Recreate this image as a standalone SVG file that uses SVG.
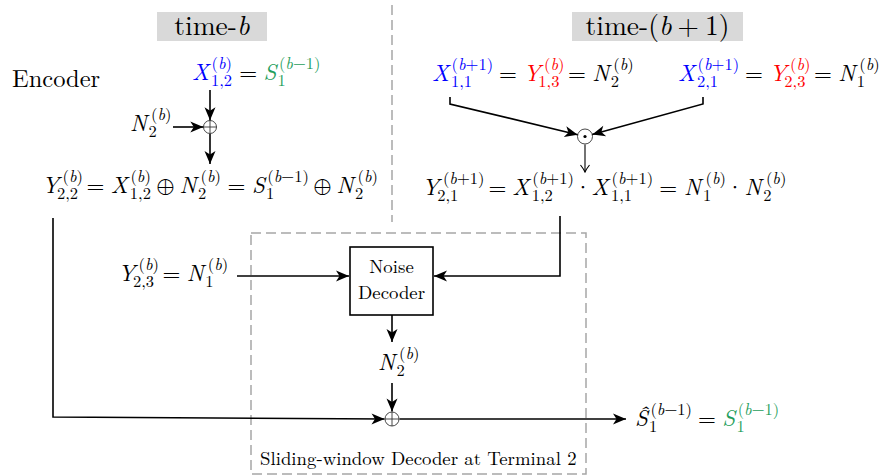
<svg xmlns="http://www.w3.org/2000/svg" width="883" height="476" viewBox="0 0 883 476">
<defs>
<style>
.m{font-size:23px;fill:#000}
.sc{font-size:16.5px}
.it{font-style:italic}
.op{font-size:23px}
.blue{fill:#0000ff}
.red{fill:#ff0000}
.green{fill:#1f9e5c}
.dash{fill:none;stroke:#a6a6a6;stroke-width:1.5;stroke-dasharray:10 5}
.opc{fill:#fff;stroke:#333;stroke-width:0.9}
</style>
<marker id="ah" markerUnits="userSpaceOnUse" viewBox="-14 -7 15 14" markerWidth="15" markerHeight="14" refX="0" refY="0" orient="auto">
<path d="M0,0 L-13,-5.5 L-9.5,0 L-13,5.5 Z" fill="#000"/>
</marker>
<marker id="ath" markerUnits="userSpaceOnUse" viewBox="-10 -6 11 12" markerWidth="11" markerHeight="12" refX="0" refY="0" orient="auto">
<path d="M-7,-4.5 Q-2.5,-1 0,0 Q-2.5,1 -7,4.5" fill="none" stroke="#000" stroke-width="1.1"/>
</marker>
</defs>
<rect width="883" height="476" fill="#fff"/>

<g id="title-b">
<rect x="157" y="12" width="110" height="29" fill="#d9d9d9"/>
<text x="212" y="35" text-anchor="middle" font-family="Latin Modern Roman, Liberation Serif, serif" font-size="27.5">time-<tspan class="it">b</tspan></text>
</g>
<g id="title-b1">
<rect x="572" y="12" width="171" height="29" fill="#d9d9d9"/>
<text x="657.5" y="35" text-anchor="middle" font-family="Latin Modern Roman, Liberation Serif, serif" font-size="27.5">time-(<tspan class="it">b</tspan><tspan dx="6">+</tspan><tspan dx="6">1)</tspan></text>
</g>

<g id="divider">
<line x1="392" y1="5" x2="392" y2="222" class="dash"/>
</g>

<g id="encoder">
<text x="12" y="87" font-size="24.5" font-family="Latin Modern Roman, Liberation Serif, serif">Encoder</text>
</g>

<g id="x12-eq">
<text class="m" font-family="Latin Modern Roman, Liberation Serif, serif">
<tspan x="192" y="80" class="it blue">X</tspan>
<tspan x="211.6" y="68.5" class="sc blue">(<tspan class="it">b</tspan>)</tspan>
<tspan x="211" y="86" class="sc blue">1,2</tspan>
<tspan x="239.2" y="80">=</tspan>
<tspan x="263.5" y="80" class="it green">S</tspan>
<tspan x="277.6" y="86" class="sc green">1</tspan>
<tspan x="278.9" y="68.5" class="sc green">(<tspan class="it">b</tspan>−1)</tspan>
</text>
</g>

<g id="n2-enc">
<text class="m" font-family="Latin Modern Roman, Liberation Serif, serif">
<tspan x="130" y="131" class="it">N</tspan>
<tspan x="148.5" y="137" class="sc">2</tspan>
<tspan x="151" y="119.5" class="sc">(<tspan class="it">b</tspan>)</tspan>
</text>
</g>

<g id="oplus-enc">
<circle cx="210" cy="127" r="6.5" class="opc"/>
<path d="M203.5,127 H216.5 M210,120.5 V133.5" stroke="#333" stroke-width="0.9"/>
</g>

<g id="y22-eq">
<text class="m" font-family="Latin Modern Roman, Liberation Serif, serif">
<tspan x="42" y="193" class="it">Y</tspan>
<tspan x="56.9" y="199" class="sc">2,2</tspan>
<tspan x="62.6" y="181.5" class="sc">(<tspan class="it">b</tspan>)</tspan>
<tspan x="86.5" y="193">=</tspan>
<tspan x="110.8" y="193" class="it">X</tspan>
<tspan x="129.8" y="199" class="sc">1,2</tspan>
<tspan x="130.4" y="181.5" class="sc">(<tspan class="it">b</tspan>)</tspan>
<tspan x="156.6" y="193" class="op" font-family="Latin Modern Math, DejaVu Sans, sans-serif">⊕</tspan>
<tspan x="179.6" y="193" class="it">N</tspan>
<tspan x="198.1" y="199" class="sc">2</tspan>
<tspan x="200.6" y="181.5" class="sc">(<tspan class="it">b</tspan>)</tspan>
<tspan x="227.6" y="193">=</tspan>
<tspan x="251.9" y="193" class="it">S</tspan>
<tspan x="266" y="199" class="sc">1</tspan>
<tspan x="267.3" y="181.5" class="sc">(<tspan class="it">b</tspan>−1)</tspan>
<tspan x="313.6" y="193" class="op" font-family="Latin Modern Math, DejaVu Sans, sans-serif">⊕</tspan>
<tspan x="336.6" y="193" class="it">N</tspan>
<tspan x="355.1" y="199" class="sc">2</tspan>
<tspan x="357.6" y="181.5" class="sc">(<tspan class="it">b</tspan>)</tspan>
</text>
</g>

<g id="x11-eq">
<text class="m" font-family="Latin Modern Roman, Liberation Serif, serif">
<tspan x="432" y="81" class="it blue">X</tspan>
<tspan x="451" y="87" class="sc blue">1,1</tspan>
<tspan x="451.6" y="69.5" class="sc blue">(<tspan class="it">b</tspan>+1)</tspan>
<tspan x="499.1" y="81">=</tspan>
<tspan x="523.4" y="81" class="it red">Y</tspan>
<tspan x="538.3" y="87" class="sc red">1,3</tspan>
<tspan x="544" y="69.5" class="sc red">(<tspan class="it">b</tspan>)</tspan>
<tspan x="568" y="81">=</tspan>
<tspan x="592.3" y="81" class="it">N</tspan>
<tspan x="610.8" y="87" class="sc">2</tspan>
<tspan x="613.3" y="69.5" class="sc">(<tspan class="it">b</tspan>)</tspan>
</text>
</g>

<g id="x21-eq">
<text class="m" font-family="Latin Modern Roman, Liberation Serif, serif">
<tspan x="678" y="81" class="it blue">X</tspan>
<tspan x="697" y="87" class="sc blue">2,1</tspan>
<tspan x="697.6" y="69.5" class="sc blue">(<tspan class="it">b</tspan>+1)</tspan>
<tspan x="745.1" y="81">=</tspan>
<tspan x="769.4" y="81" class="it red">Y</tspan>
<tspan x="784.3" y="87" class="sc red">2,3</tspan>
<tspan x="790" y="69.5" class="sc red">(<tspan class="it">b</tspan>)</tspan>
<tspan x="814" y="81">=</tspan>
<tspan x="838.3" y="81" class="it">N</tspan>
<tspan x="856.8" y="87" class="sc">1</tspan>
<tspan x="859.3" y="69.5" class="sc">(<tspan class="it">b</tspan>)</tspan>
</text>
</g>

<g id="odot">
<circle cx="585" cy="136.5" r="7.5" class="opc"/>
<circle cx="585" cy="136.5" r="1.6" fill="#000"/>
</g>

<g id="y21-eq">
<text class="m" font-family="Latin Modern Roman, Liberation Serif, serif">
<tspan x="422" y="195" class="it">Y</tspan>
<tspan x="437.2" y="201" class="sc">2,1</tspan>
<tspan x="442.9" y="183.5" class="sc">(<tspan class="it">b</tspan>+1)</tspan>
<tspan x="488.6" y="195">=</tspan>
<tspan x="512.3" y="195" class="it">X</tspan>
<tspan x="531.7" y="201" class="sc">1,2</tspan>
<tspan x="532.3" y="183.5" class="sc">(<tspan class="it">b</tspan>+1)</tspan>
<tspan x="591.6" y="195" class="it">X</tspan>
<tspan x="611" y="201" class="sc">1,1</tspan>
<tspan x="611.6" y="183.5" class="sc">(<tspan class="it">b</tspan>+1)</tspan>
<tspan x="659.3" y="195">=</tspan>
<tspan x="684" y="195" class="it">N</tspan>
<tspan x="702.9" y="201" class="sc">1</tspan>
<tspan x="705.5" y="183.5" class="sc">(<tspan class="it">b</tspan>)</tspan>
<tspan x="744.4" y="195" class="it">N</tspan>
<tspan x="763.3" y="201" class="sc">2</tspan>
<tspan x="765.9" y="183.5" class="sc">(<tspan class="it">b</tspan>)</tspan>
</text>
<text class="m" x="583" y="195" text-anchor="middle" font-family="Latin Modern Roman, Liberation Serif, serif">·</text>
<text class="m" x="735" y="195" text-anchor="middle" font-family="Latin Modern Roman, Liberation Serif, serif">·</text>
</g>

<g id="window">
<rect x="251" y="233" width="335" height="241" class="dash"/>
<text x="260" y="465" font-size="18.8" font-family="Latin Modern Roman, Liberation Serif, serif">Sliding-window Decoder at Terminal 2</text>
</g>

<g id="y23-eq">
<text class="m" font-family="Latin Modern Roman, Liberation Serif, serif">
<tspan x="118" y="281" class="it">Y</tspan>
<tspan x="132.9" y="287" class="sc">2,3</tspan>
<tspan x="138.6" y="269.5" class="sc">(<tspan class="it">b</tspan>)</tspan>
<tspan x="162.5" y="281">=</tspan>
<tspan x="186.8" y="281" class="it">N</tspan>
<tspan x="205.3" y="287" class="sc">1</tspan>
<tspan x="207.8" y="269.5" class="sc">(<tspan class="it">b</tspan>)</tspan>
</text>
</g>

<g id="noise-decoder">
<rect x="350" y="247" width="83" height="68" fill="#fff" stroke="#000" stroke-width="1.6"/>
<text x="391.5" y="273" text-anchor="middle" font-size="18.8" font-family="Latin Modern Roman, Liberation Serif, serif">Noise</text>
<text x="391.5" y="299" text-anchor="middle" font-size="18.8" font-family="Latin Modern Roman, Liberation Serif, serif">Decoder</text>
</g>

<g id="n2-dec">
<text class="m" font-family="Latin Modern Roman, Liberation Serif, serif">
<tspan x="378" y="370" class="it">N</tspan>
<tspan x="396.5" y="376" class="sc">2</tspan>
<tspan x="399" y="358.5" class="sc">(<tspan class="it">b</tspan>)</tspan>
</text>
</g>

<g id="oplus-dec">
<circle cx="392" cy="419" r="7" class="opc"/>
<path d="M385,419 H399 M392,412 V426" stroke="#333" stroke-width="0.9"/>
</g>

<g id="s-hat-eq">
<text class="m" font-family="Latin Modern Roman, Liberation Serif, serif">
<tspan x="635" y="426" class="it">Ŝ</tspan>
<tspan x="649.1" y="432" class="sc">1</tspan>
<tspan x="650.4" y="414.5" class="sc">(<tspan class="it">b</tspan>−1)</tspan>
<tspan x="698" y="426">=</tspan>
<tspan x="722.3" y="426" class="it green">S</tspan>
<tspan x="736.4" y="432" class="sc green">1</tspan>
<tspan x="737.7" y="414.5" class="sc green">(<tspan class="it">b</tspan>−1)</tspan>
</text>
</g>

<g id="connectors" fill="none" stroke="#000" stroke-width="1.6">
<path d="M210,90 V120.3" marker-end="url(#ah)"/>
<path d="M173,127 H203.3" marker-end="url(#ah)"/>
<path d="M210,134 V164" marker-end="url(#ah)"/>
<path d="M450,97 V104 L577.7,134.7" marker-end="url(#ah)"/>
<path d="M703,97 V104 L592.2,134.5" marker-end="url(#ah)"/>
<path d="M585,144.5 V172" stroke-width="1.1" marker-end="url(#ath)"/>
<path d="M560,216 V276 H434" marker-end="url(#ah)"/>
<path d="M237,276 H349" marker-end="url(#ah)"/>
<path d="M392,315 V342" marker-end="url(#ah)"/>
<path d="M392,383 V411.5" marker-end="url(#ah)"/>
<path d="M53,218 V417 L384.5,419" marker-end="url(#ah)"/>
<path d="M399.5,419 H626" marker-end="url(#ah)"/>
</g>
</svg>
